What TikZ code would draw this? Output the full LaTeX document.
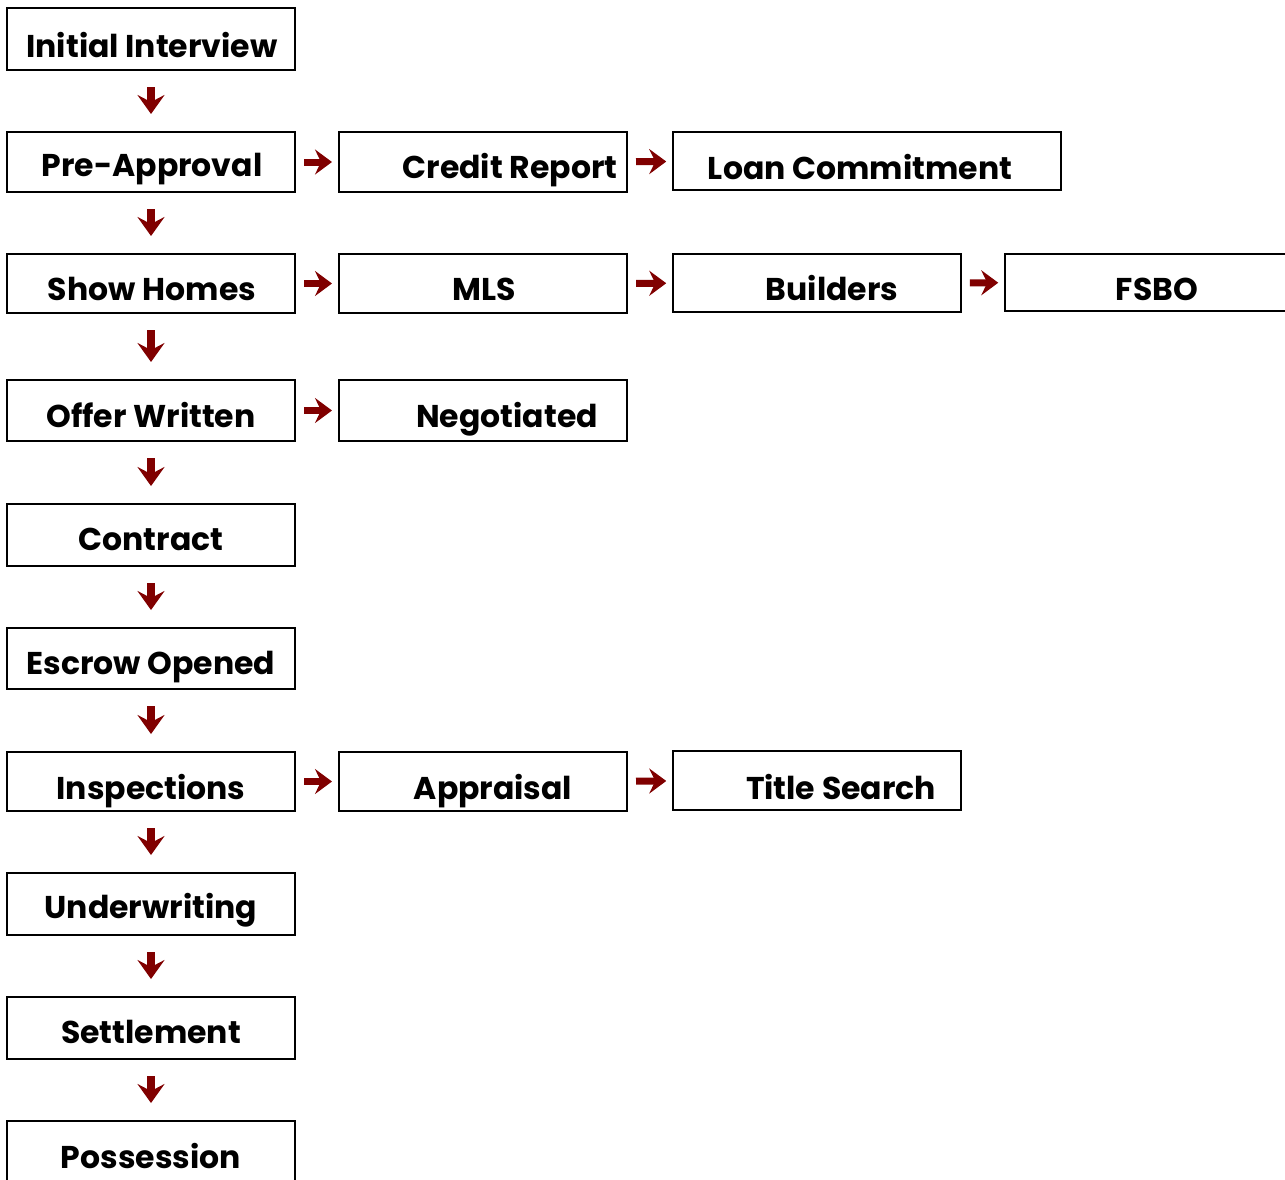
\documentclass[tikz,border=0pt]{standalone}
\usepackage{fontspec}
\setmainfont{Poppins}[UprightFont=* Bold]
\usetikzlibrary{arrows.meta}

\definecolor{arrowred}{RGB}{128,0,0}

\tikzset{
    box/.style={draw, line width=2pt, minimum width=288pt, minimum height=60pt, inner sep=0pt},
    thinbox/.style={box, line width=1.5pt},
    lbl/.style={anchor=base, inner sep=0pt, font=\fontsize{31.5}{34}\selectfont},
    downarrow/.style={arrowred, line width=8pt, -{Stealth[length=19pt, width=27pt, inset=7pt]},
        shorten <=16pt, shorten >=17pt},
    rightarrow/.style={arrowred, line width=7pt, -{Stealth[length=17pt, width=25pt, inset=6pt]},
        shorten <=8pt, shorten >=6pt}
}

\begin{document}
\begin{tikzpicture}[x=1pt, y=-1pt]
        \useasboundingbox (0, 0) rectangle (1285, 1179);

        % main column
        \node[box, minimum height=62pt] (init) at (151, 39) {};
        \node[box] (pre) at (151, 162) {};
        \node[box, minimum height=59pt] (show) at (151, 283.5) {};
        \node[box, minimum height=61pt] (offer) at (151, 410.5) {};
        \node[box, minimum height=62pt] (contract) at (151, 535) {};
        \node[box, minimum height=61pt] (escrow) at (151, 658.5) {};
        \node[box, minimum height=59pt] (insp) at (151, 781.5) {};
        \node[box, minimum height=62pt] (under) at (151, 904) {};
        \node[box, minimum height=62pt] (settle) at (151, 1028) {};
        \node[box, minimum height=80pt] (poss) at (151, 1161) {};

        \node[lbl] (init-l) at (152, 57) {Initial Interview};
        \node[lbl] (pre-l) at (152, 176) {Pre-Approval};
        \node[lbl] (show-l) at (152, 300) {Show Homes};
        \node[lbl] (offer-l) at (151, 427) {Offer Written};
        \node[lbl] (contract-l) at (151, 550) {Contract};
        \node[lbl] (escrow-l) at (151, 674) {Escrow Opened};
        \node[lbl] (insp-l) at (151, 799) {Inspections};
        \node[lbl] (under-l) at (151, 918) {Underwriting};
        \node[lbl] (settle-l) at (151, 1043) {Settlement};
        \node[lbl] (poss-l) at (151, 1168) {Possession};

        % side branches
        \node[box] (credit) at (483, 162) {};
        \node[box, minimum height=59pt] (mls) at (483, 283.5) {};
        \node[box, minimum height=61pt] (nego) at (483, 410.5) {};
        \node[box, minimum height=59pt] (appr) at (483, 781.5) {};
        \node[thinbox, minimum width=388pt, minimum height=58pt] (loan) at (867, 161) {};
        \node[thinbox, minimum height=58pt] (build) at (817, 283) {};
        \node[thinbox, minimum height=59pt] (title) at (817, 780.5) {};
        \node[thinbox, minimum width=300pt, minimum height=57pt] (fsbo) at (1155, 282.5) {};

        \node[lbl] (credit-l) at (510, 178) {Credit Report};
        \node[lbl] (mls-l) at (484, 300) {MLS};
        \node[lbl] (nego-l) at (507, 427) {Negotiated};
        \node[lbl] (appr-l) at (493, 799) {Appraisal};
        \node[lbl] (loan-l) at (860, 179) {Loan Commitment};
        \node[lbl] (build-l) at (832, 300) {Builders};
        \node[lbl] (title-l) at (841, 799) {Title Search};
        \node[lbl] (fsbo-l) at (1157, 300) {FSBO};

        % arrows down
        \foreach \a/\b in {init/pre, pre/show, show/offer, offer/contract, contract/escrow,
                escrow/insp, insp/under, under/settle, settle/poss} {
            \draw[downarrow] (\a) -- (\b);
        }

        % arrows right
        \foreach \a/\b in {pre/credit, credit/loan, show/mls, mls/build, build/fsbo,
                offer/nego, insp/appr, appr/title} {
            \draw[rightarrow] (\a) -- (\b);
        }
    \end{tikzpicture}
\end{document}
